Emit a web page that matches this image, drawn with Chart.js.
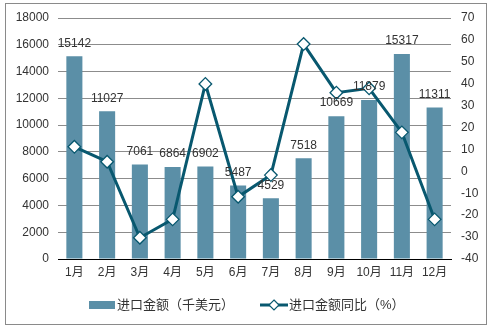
<!DOCTYPE html>
<html><head><meta charset="utf-8">
<script src="https://cdn.jsdelivr.net/npm/chart.js@4/dist/chart.umd.min.js"></script>
<style>html,body{margin:0;padding:0;background:#fff;}#wrap{width:493px;height:331px;position:relative;}</style>
</head><body><div id="wrap"><canvas id="c" width="493" height="331"></canvas></div>
<script>
const categories = ['1月','2月','3月','4月','5月','6月','7月','8月','9月','10月','11月','12月'];
const importValues = [15142, 11027, 7061, 6864, 6902, 5487, 4529, 7518, 10669, 11879, 15317, 11311];
const yoyValues = [11.2, 4.4, -30.3, -21.9, 39.9, -11.6, -1.7, 58.1, 35.9, 37.9, 17.8, -21.9];
const leftTicks = [0, 2000, 4000, 6000, 8000, 10000, 12000, 14000, 16000, 18000];
const rightTicks = [-40, -30, -20, -10, 0, 10, 20, 30, 40, 50, 60, 70];
const seriesNames = ['进口金额（千美元）', '进口金额同比（%）'];

const BAR = '#5B8FA7', LINE = '#08586F', TXT = '#333333';
const cjk = '"Liberation Sans", "Noto Sans CJK SC", sans-serif';

const extras = {
  id: 'extras',
  afterDatasetsDraw(chart) {
    const ctx = chart.ctx;
    const meta = chart.getDatasetMeta(0);
    ctx.save();
    ctx.font = '12px ' + cjk;
    ctx.fillStyle = TXT;
    ctx.textAlign = 'center';
    ctx.textBaseline = 'middle';
    meta.data.forEach((el, i) => {
      ctx.fillText(String(importValues[i]), el.x, el.y - 13);
    });
    ctx.restore();
  },
  afterDraw(chart) {
    const ctx = chart.ctx;
    ctx.save();
    // outer border
    ctx.strokeStyle = '#8a8a8a';
    ctx.lineWidth = 1;
    ctx.strokeRect(5.5, 3.5, 481, 321);
    // legend
    const ly = 305;
    ctx.fillStyle = BAR;
    ctx.fillRect(89, ly - 4, 26, 8);
    ctx.font = '13px ' + cjk;
    ctx.fillStyle = TXT;
    ctx.textBaseline = 'middle';
    ctx.textAlign = 'left';
    ctx.fillText(seriesNames[0], 117, ly);
    ctx.strokeStyle = LINE;
    ctx.lineWidth = 3;
    ctx.beginPath(); ctx.moveTo(260, ly); ctx.lineTo(288, ly); ctx.stroke();
    ctx.beginPath();
    ctx.moveTo(274, ly - 5); ctx.lineTo(279, ly); ctx.lineTo(274, ly + 5); ctx.lineTo(269, ly); ctx.closePath();
    ctx.fillStyle = '#fff'; ctx.fill();
    ctx.lineWidth = 1.2; ctx.stroke();
    ctx.fillStyle = TXT;
    ctx.fillText(seriesNames[1], 289, ly);
    ctx.restore();
  }
};

new Chart(document.getElementById('c'), {
  data: {
    labels: categories,
    datasets: [
      { type: 'bar', label: seriesNames[0], data: importValues, backgroundColor: BAR,
        yAxisID: 'y', categoryPercentage: 1, barPercentage: 0.49, order: 2 },
      { type: 'line', label: seriesNames[1], data: yoyValues, borderColor: LINE, borderWidth: 3,
        yAxisID: 'y2', pointStyle: 'rectRot', pointRadius: 6.3, pointHoverRadius: 6.3,
        pointBackgroundColor: '#fff', pointBorderColor: LINE, pointBorderWidth: 1.3,
        tension: 0, order: 1 }
    ]
  },
  options: {
    responsive: false, animation: false, devicePixelRatio: 1,
    layout: { padding: { top: 18, bottom: 40, left: 0, right: 0 } },
    plugins: { legend: { display: false }, tooltip: { enabled: false } },
    scales: {
      x: {
        grid: { display: false, drawTicks: false },
        border: { display: true, color: '#000', width: 1 },
        ticks: { color: TXT, font: { size: 12, family: cjk }, padding: 6, maxRotation: 0, autoSkip: false },
        afterFit(s) { s.height = 32; }
      },
      y: {
        position: 'left', min: 0, max: 18000,
        afterBuildTicks(s) { s.ticks = leftTicks.map(v => ({ value: v })); },
        grid: { color: '#8c8c8c', drawTicks: false, lineWidth: 1 },
        border: { display: false },
        ticks: { color: TXT, font: { size: 12, family: cjk }, padding: 9, callback: v => String(v) },
        afterFit(s) { s.width = 58; }
      },
      y2: {
        position: 'right', min: -40, max: 70,
        afterBuildTicks(s) { s.ticks = rightTicks.map(v => ({ value: v })); },
        grid: { display: false, drawTicks: false },
        border: { display: false },
        ticks: { color: TXT, font: { size: 12, family: cjk }, padding: 10, callback: v => String(v) },
        afterFit(s) { s.width = 42; }
      }
    }
  },
  plugins: [extras]
});
</script></body></html>
